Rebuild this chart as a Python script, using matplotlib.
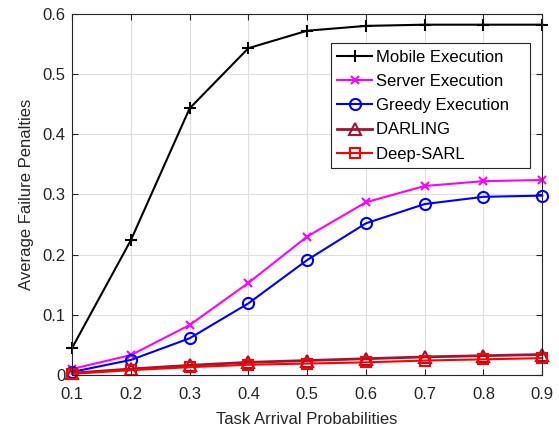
import matplotlib.pyplot as plt
import numpy as np

plt.rcParams['font.family'] = ['Liberation Sans', 'DejaVu Sans']

probs = [0.1, 0.2, 0.3, 0.4, 0.5, 0.6, 0.7, 0.8, 0.9]
mobile = [0.045, 0.224, 0.443, 0.543, 0.572, 0.580, 0.582, 0.582, 0.582]
server = [0.010, 0.033, 0.083, 0.153, 0.230, 0.287, 0.314, 0.322, 0.324]
greedy = [0.005, 0.025, 0.061, 0.119, 0.191, 0.252, 0.284, 0.296, 0.298]
darling = [0.003, 0.010, 0.016, 0.021, 0.024, 0.027, 0.030, 0.032, 0.034]
deepsarl = [0.002, 0.008, 0.013, 0.017, 0.019, 0.021, 0.024, 0.026, 0.028]

fig = plt.figure(figsize=(5.59, 4.33), dpi=100)
ax = fig.add_axes([0.129, 0.134, 0.841, 0.834])

# trailing spaces give the legend box its wide right margin
pad = '   '
kw = dict(lw=1.5, mew=1.5, clip_on=False)
ax.plot(probs, mobile, '-+', color='k', ms=9, label='Mobile Execution' + pad, **kw)
ax.plot(probs, server, '-x', color='#FF00FF', ms=6, label='Server Execution' + pad, **kw)
ax.plot(probs, greedy, '-o', color='#0000FF', ms=8, mfc='none', label='Greedy Execution' + pad, **kw)
ax.plot(probs, darling, '-^', color='#A2142F', ms=8, mfc='none', label='DARLING' + pad,
        lw=2, mew=1.5, clip_on=False)
ax.plot(probs, deepsarl, '-s', color='#FF0000', ms=7, mfc='none', label='Deep-SARL' + pad, **kw)

ax.set_xlim(0.1, 0.9)
ax.set_ylim(0, 0.6)
ax.set_xticks(probs)
ax.set_xticklabels(['0.1', '0.2', '0.3', '0.4', '0.5', '0.6', '0.7', '0.8', '0.9'])
ax.set_yticks([0, 0.1, 0.2, 0.3, 0.4, 0.5, 0.6])
ax.set_yticklabels(['0', '0.1', '0.2', '0.3', '0.4', '0.5', '0.6'])
ax.grid(True, color='#DFDFDF', lw=0.8)
ax.set_axisbelow(True)
ax.tick_params(direction='in', labelsize=12, colors='#262626', length=4, top=True, right=True)
ax.tick_params(axis='x', pad=9)
ax.tick_params(axis='y', pad=5)
for s in ax.spines.values():
    s.set_color('#262626')
    s.set_linewidth(0.8)

ax.set_xlabel('Task Arrival Probabilities', fontsize=12, color='#262626', labelpad=7)
ax.set_ylabel('Average Failure Penalties', fontsize=12, color='#262626', labelpad=6)

leg = ax.legend(loc='upper right', bbox_to_anchor=(0.948, 0.900),
                bbox_transform=fig.transFigure, fontsize=12,
                fancybox=False, framealpha=1, edgecolor='#262626',
                handlelength=2.1, handletextpad=0.25, borderpad=0.4,
                labelspacing=0.55, borderaxespad=0)
leg.get_frame().set_linewidth(0.8)

fig.savefig('out.png', dpi=100)
